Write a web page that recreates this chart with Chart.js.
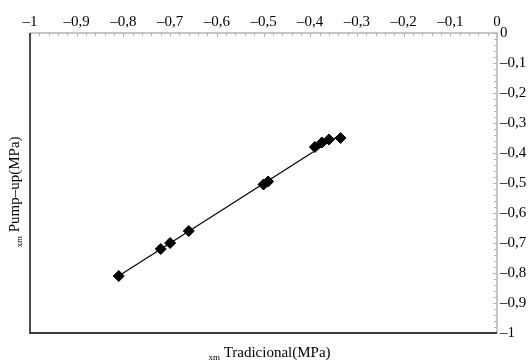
<!DOCTYPE html>
<html>
<head>
<meta charset="utf-8">
<script src="https://cdn.jsdelivr.net/npm/chart.js@4"></script>
<style>
html,body{margin:0;padding:0;background:#fff;}
#wrap{width:531px;height:363px;position:relative;}
</style>
</head>
<body>
<div id="wrap"><canvas id="c" width="531" height="363"></canvas></div>
<script>
// Data
const tradicional = [-0.81, -0.72, -0.70, -0.66, -0.50, -0.49, -0.39, -0.375, -0.36, -0.335];
const pumpUp      = [-0.81, -0.72, -0.70, -0.66, -0.505, -0.495, -0.38, -0.365, -0.355, -0.35];
// Trend line endpoints
const trendX = [-0.812, -0.335];
const trendY = [-0.812, -0.338];
// Axis tick values
const axisMin = -1, axisMax = 0, majorStep = 0.1, minorStep = 0.02;
const xTitleSub = 'xm', xTitleMain = ' Tradicional(MPa)';
const yTitleSub = 'xm', yTitleMain = ' Pump–up(MPa)';

const FONT = '"Liberation Serif", "Times New Roman", serif';

function fmt(v) {
  const r = Math.round(v * 10) / 10;
  if (r === 0) return '0';
  const s = Math.abs(r).toString().replace('.', ',');
  return (r < 0 ? '–' : '') + s;
}

const decor = {
  id: 'decor',
  afterDraw(chart) {
    const ctx = chart.ctx;
    const a = chart.chartArea;
    const xs = chart.scales.x, ys = chart.scales.y;
    ctx.save();
    // light top and right axis lines with inner ticks
    ctx.strokeStyle = '#b4b4b4';
    ctx.lineWidth = 1.5;
    ctx.beginPath();
    ctx.moveTo(a.left, a.top); ctx.lineTo(a.right, a.top); ctx.lineTo(a.right, a.bottom);
    ctx.stroke();
    ctx.lineWidth = 1;
    const n = Math.round((axisMax - axisMin) / minorStep);
    const per = Math.round(majorStep / minorStep);
    ctx.beginPath();
    for (let i = 0; i <= n; i++) {
      const v = axisMin + i * minorStep;
      const len = (i % per === 0) ? 4 : 3;
      const px = Math.round(xs.getPixelForValue(v)) + 0.5;
      ctx.moveTo(px, a.top); ctx.lineTo(px, a.top + len);
      const py = Math.round(ys.getPixelForValue(v)) + 0.5;
      ctx.moveTo(a.right, py); ctx.lineTo(a.right - len, py);
    }
    ctx.stroke();
    // dark left and bottom lines
    ctx.strokeStyle = '#3a3a3a';
    ctx.lineWidth = 1.8;
    ctx.beginPath();
    ctx.moveTo(a.left, a.top); ctx.lineTo(a.left, a.bottom); ctx.lineTo(a.right, a.bottom);
    ctx.stroke();
    // axis titles
    ctx.fillStyle = '#000';
    ctx.textBaseline = 'alphabetic';
    ctx.font = '15px ' + FONT;
    const mainW = ctx.measureText(xTitleMain).width;
    ctx.font = '9px ' + FONT;
    const subW = ctx.measureText(xTitleSub).width;
    let total = mainW + subW;
    let cx = (a.left + a.right) / 2 + 6;
    let x0 = cx - total / 2;
    const by = 357;
    ctx.fillText(xTitleSub, x0, by + 3);
    ctx.font = '15px ' + FONT;
    ctx.fillText(xTitleMain, x0 + subW, by);
    // y title rotated
    ctx.translate(19, 192);
    ctx.rotate(-Math.PI / 2);
    const mW = ctx.measureText(yTitleMain).width;
    ctx.font = '9px ' + FONT;
    const sW = ctx.measureText(yTitleSub).width;
    total = mW + sW;
    x0 = -total / 2;
    ctx.fillText(yTitleSub, x0, 3);
    ctx.font = '15px ' + FONT;
    ctx.fillText(yTitleMain, x0 + sW, 0);
    ctx.restore();
  }
};

new Chart(document.getElementById('c'), {
  type: 'scatter',
  data: {
    datasets: [
      {
        label: 'trend',
        data: trendX.map((x, i) => ({x: x, y: trendY[i]})),
        showLine: true,
        borderColor: '#000',
        borderWidth: 1.2,
        pointRadius: 0,
        fill: false
      },
      {
        label: 'points',
        data: tradicional.map((x, i) => ({x: x, y: pumpUp[i]})),
        pointStyle: 'rectRot',
        pointRadius: 5.5,
        pointBackgroundColor: '#000',
        pointBorderColor: '#000',
        pointBorderWidth: 1,
        showLine: false
      }
    ]
  },
  options: {
    responsive: false,
    animation: false,
    devicePixelRatio: 1,
    layout: { padding: { left: 30, bottom: 30, top: 0, right: 0 } },
    plugins: { legend: { display: false }, tooltip: { enabled: false } },
    scales: {
      x: {
        type: 'linear', position: 'top', min: axisMin, max: axisMax,
        grid: { display: false, drawTicks: false },
        border: { display: false },
        ticks: { stepSize: majorStep, padding: 2, maxRotation: 0, autoSkip: false,
                 color: '#000', font: { family: FONT, size: 15 }, callback: v => fmt(v) },
        afterFit: s => { s.height = 33; }
      },
      y: {
        type: 'linear', position: 'right', min: axisMin, max: axisMax,
        grid: { display: false, drawTicks: false },
        border: { display: false },
        ticks: { stepSize: majorStep, padding: 3, autoSkip: false,
                 color: '#000', font: { family: FONT, size: 15 }, callback: v => fmt(v) },
        afterFit: s => { s.width = 34; }
      }
    }
  },
  plugins: [decor]
});
</script>
</body>
</html>
